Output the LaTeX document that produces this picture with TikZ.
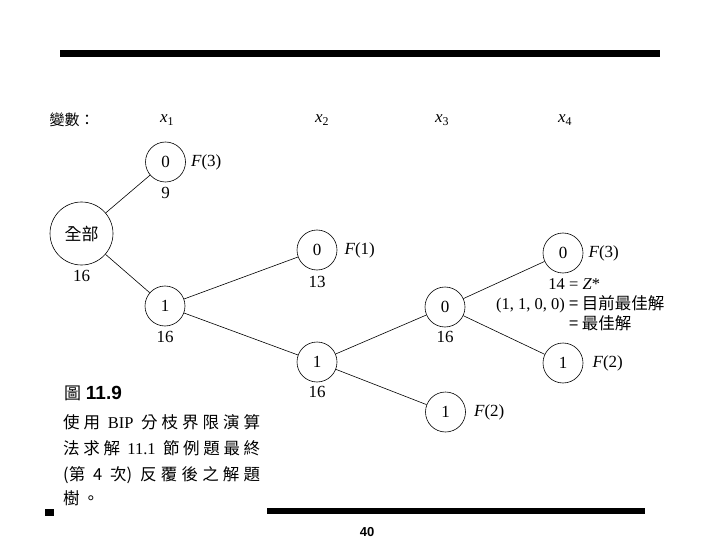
\documentclass[tikz,border=0pt]{standalone}
\usepackage{fontspec}
\setmainfont{Liberation Serif}
\newfontfamily\cjk{Noto Sans CJK TC}
\newfontfamily\hei{Liberation Sans}
\usetikzlibrary{positioning}
\newcommand\numsize{\fontsize{17}{17}\selectfont}

\begin{document}
\begin{tikzpicture}[x=1pt,y=-1pt,font=\numsize,
   vnode/.style={circle,draw,line width=0.6pt,minimum size=40pt,inner sep=0pt},
   rnode/.style={vnode,minimum size=63pt,font=\cjk\fontsize{17}{17}\selectfont},
   bnd/.style={inner sep=0pt},
   fix/.style={inner sep=0pt},
   edge/.style={line width=0.6pt},
   capline/.style={anchor=west,inner sep=0pt,font=\cjk\fontsize{16.5}{16.5}\selectfont}]
  \useasboundingbox (0,0) rectangle (720,540);
  \fill (60,50) rectangle (660,57);
  \fill (267,508) rectangle (645,514);
  \fill (45,509) rectangle (54,516);
  \node[font=\hei\bfseries\fontsize{13}{13}\selectfont,inner sep=0pt] (pg) at (367,532) {40};

  % variables
  \node[font=\cjk\fontsize{15}{15}\selectfont] (var) at (72,120) {變數：};
  \node (x1) at (167,120) {\textit{x}\textsubscript{1}};
  \node (x2) at (322,120) {\textit{x}\textsubscript{2}};
  \node (x3) at (442,120) {\textit{x}\textsubscript{3}};
  \node (x4) at (565,120) {\textit{x}\textsubscript{4}};

  % tree
  \node[rnode] (all) at (81.5,233.5) {全部};
  \node[vnode] (a) at (165.5,162) {0};
  \node[vnode] (b) at (165,306) {1};
  \node[vnode] (c) at (317,250) {0};
  \node[vnode] (d) at (317,362) {1};
  \node[vnode] (e) at (445,307) {0};
  \node[vnode] (f) at (563,253) {0};
  \node[vnode] (g) at (563,363) {1};
  \node[vnode] (h) at (445.5,412) {1};

  \draw[edge] (all) -- (a);
  \draw[edge] (all) -- (b);
  \draw[edge] (b) -- (c);
  \draw[edge] (b) -- (d);
  \draw[edge] (d) -- (e);
  \draw[edge] (d) -- (h);
  \draw[edge] (e) -- (f);
  \draw[edge] (e) -- (g);

  \node[bnd,below=5pt of all] (lall) {16};
  \node[bnd,below=5pt of a] (la) {9};
  \node[bnd,below=5pt of b] (lb) {16};
  \node[bnd,below=6pt of c] (lc) {13};
  \node[bnd,below=4pt of d] (ld) {16};
  \node[bnd,below=4pt of e] (le) {16};

  \node[fix,right=5pt of a] (fa) {\textit{F}(3)};
  \node[fix,right=7pt of c] (fc) {\textit{F}(1)};
  \node[fix,right=5pt of f] (ff) {\textit{F}(3)};
  \node[fix,right=9pt of g] (fg) {\textit{F}(2)};
  \node[fix,right=8pt of h] (fh) {\textit{F}(2)};

  \node[anchor=north west,inner sep=0pt,font=\fontsize{16.5}{18}\selectfont] (best) at (496,277)
    {\begin{tabular}{@{}r@{\ }l@{}}
      14 & = \textit{Z}*\\
      (1, 1, 0, 0) & {\cjk = 目前最佳解}\\[1pt]
      & {\cjk = 最佳解}
    \end{tabular}};

  % caption
  \node[anchor=west,inner sep=0pt,font=\fontsize{19}{19}\selectfont] (cap) at (64,393)
    {{\cjk\fontsize{17}{17}\selectfont 圖}\ {\hei\bfseries 11.9}};
  \node[capline] (cap1) at (63,422)
    {\makebox[197pt][s]{使\hfill 用\hfill\ {\rmfamily BIP}\ \hfill 分\hfill 枝\hfill 界\hfill 限\hfill 演\hfill 算}};
  \node[capline] (cap2) at (63,448)
    {\makebox[197pt][s]{法\hfill 求\hfill 解\hfill\ {\rmfamily 11.1}\ \hfill 節\hfill 例\hfill 題\hfill 最\hfill 終}};
  \node[capline] (cap3) at (63,475)
    {\makebox[197pt][s]{(第\hfill\ 4\ \hfill 次)\hfill\ 反\hfill 覆\hfill 後\hfill 之\hfill 解\hfill 題}};
  \node[capline] (cap4) at (63,498) {樹\hspace{3pt}。};
\end{tikzpicture}
\end{document}
